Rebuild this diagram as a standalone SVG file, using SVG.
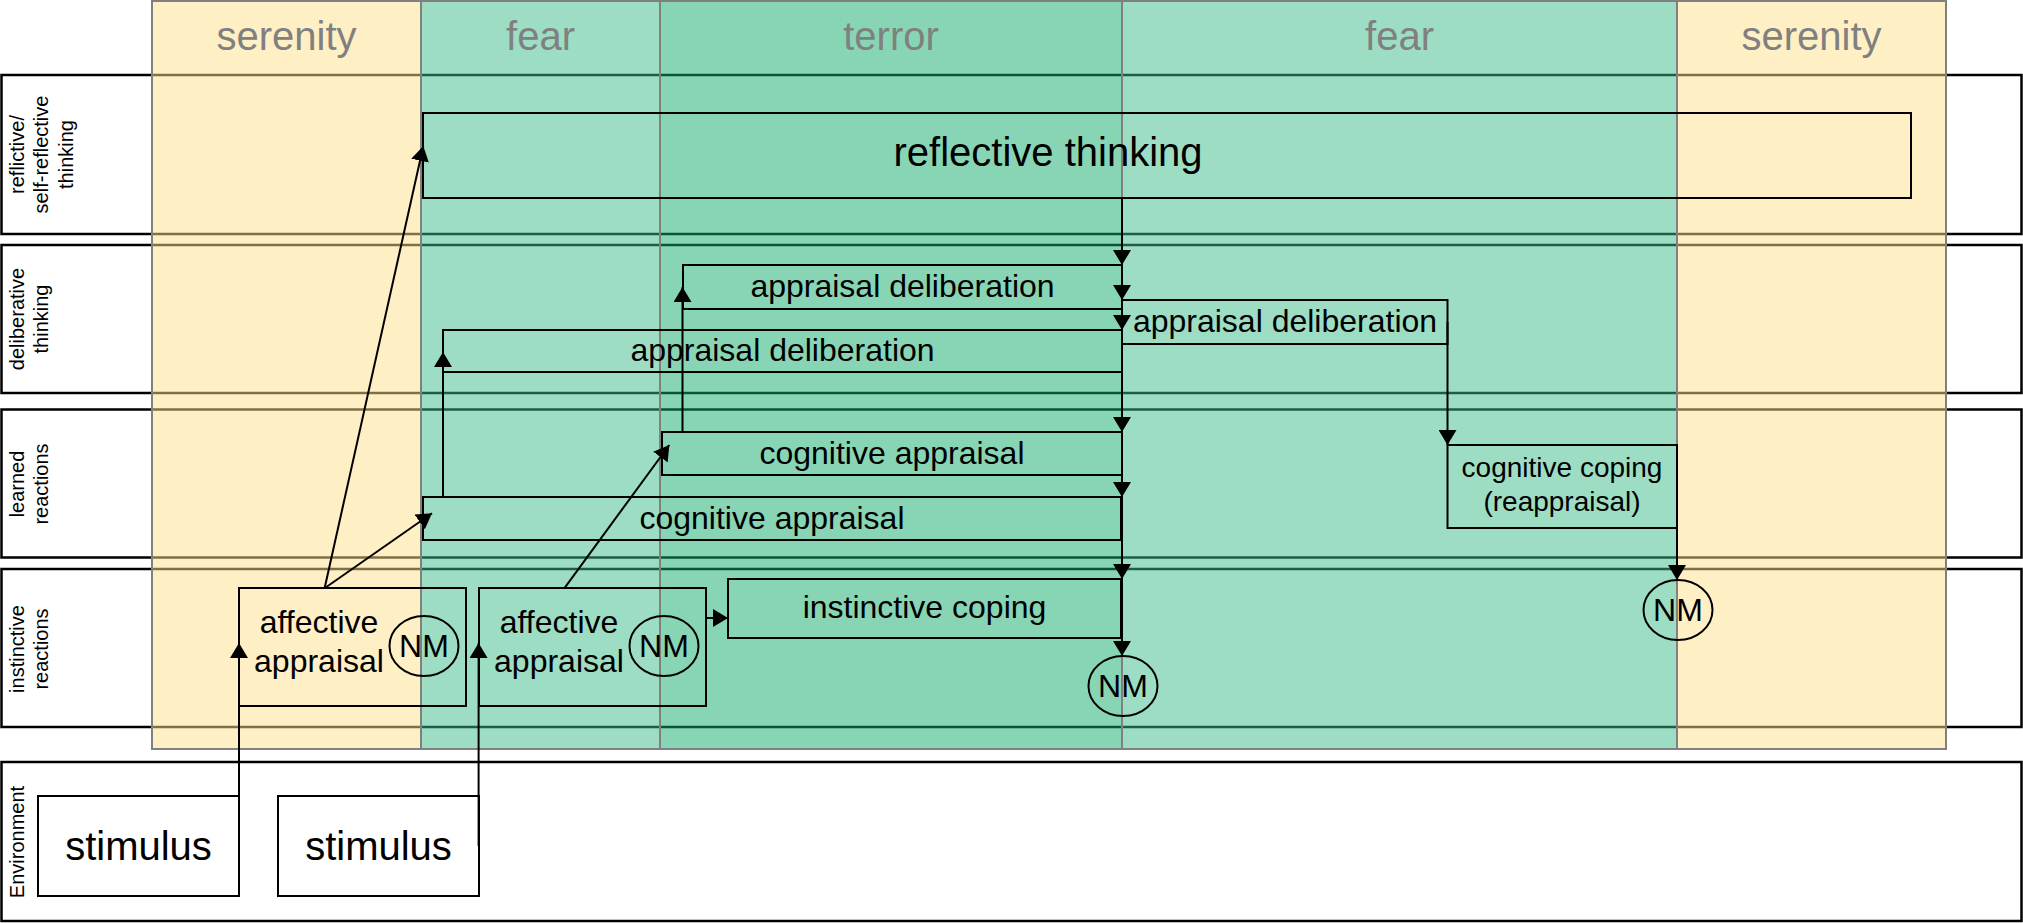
<svg xmlns="http://www.w3.org/2000/svg" width="2023" height="923" viewBox="0 0 2023 923">
<style>
.lane{fill:#fff;stroke:#000;stroke-width:2.5}
.lbl{font-family:"Liberation Sans",Arial,sans-serif;font-size:20px;fill:#000;text-anchor:middle}
.band{stroke:#808080;stroke-width:2;fill-opacity:0.5}
.hdr{font-family:"Liberation Sans",Arial,sans-serif;font-size:40px;fill:#808080;text-anchor:middle}
.box{fill:none;stroke:#000;stroke-width:2}
.t{font-family:"Liberation Sans",Arial,sans-serif;font-size:32px;fill:#000;text-anchor:middle}
.big{font-size:40px}
.sm{font-size:28px}
.con{fill:none;stroke:#000;stroke-width:2;marker-end:url(#arr)}
</style>
<defs>
<marker id="arr" markerUnits="userSpaceOnUse" markerWidth="15" markerHeight="18" refX="15" refY="9" orient="auto">
<path d="M0,0 L15,9 L0,18 Z" fill="#000"/>
</marker>
</defs>
<rect width="2023" height="923" fill="#fff"/>
<g id="lanes">
<g id="lane-reflective">
<rect class="lane" x="1.5" y="75" width="2020" height="159"/>
<text class="lbl" transform="translate(0,154.5) rotate(-90)"><tspan x="0" y="23.5">reflictive/</tspan><tspan x="0" y="48">self-reflective</tspan><tspan x="0" y="72.5">thinking</tspan></text>
</g>
<g id="lane-deliberative">
<rect class="lane" x="1.5" y="245" width="2020" height="148"/>
<text class="lbl" transform="translate(0,319) rotate(-90)"><tspan x="0" y="23.5">deliberative</tspan><tspan x="0" y="48">thinking</tspan></text>
</g>
<g id="lane-learned">
<rect class="lane" x="1.5" y="409.5" width="2020" height="148"/>
<text class="lbl" transform="translate(0,484) rotate(-90)"><tspan x="0" y="23.5">learned</tspan><tspan x="0" y="48">reactions</tspan></text>
</g>
<g id="lane-instinctive">
<rect class="lane" x="1.5" y="569" width="2020" height="158"/>
<text class="lbl" transform="translate(0,649) rotate(-90)"><tspan x="0" y="23.5">instinctive</tspan><tspan x="0" y="48">reactions</tspan></text>
</g>
<g id="lane-environment">
<rect class="lane" x="1.5" y="762" width="2020" height="159"/>
<text class="lbl" transform="translate(0,842) rotate(-90)"><tspan x="0" y="23.5">Environment</tspan></text>
</g>
</g>
<g id="bands">
<g id="band-serenity-1"><rect class="band" x="152" y="1" width="269" height="748" fill="#FFDF8B"/><text class="hdr" x="286.5" y="50">serenity</text></g>
<g id="band-fear-1"><rect class="band" x="421" y="1" width="239" height="748" fill="#3BBB87"/><text class="hdr" x="540.5" y="50">fear</text></g>
<g id="band-terror"><rect class="band" x="660" y="1" width="462" height="748" fill="#11AB6B"/><text class="hdr" x="891" y="50">terror</text></g>
<g id="band-fear-2"><rect class="band" x="1122" y="1" width="555" height="748" fill="#3BBB87"/><text class="hdr" x="1399.5" y="50">fear</text></g>
<g id="band-serenity-2"><rect class="band" x="1677" y="1" width="269" height="748" fill="#FFDF8B"/><text class="hdr" x="1811.5" y="50">serenity</text></g>
</g>
<g id="n-reflective"><rect class="box" x="423" y="113" width="1488" height="85"/><text class="t big" x="1048" y="166">reflective thinking</text></g>
<g id="n-delib-1"><rect class="box" x="683" y="265" width="439" height="44"/><text class="t" x="902.5" y="297">appraisal deliberation</text></g>
<g id="n-delib-2"><rect class="box" x="443" y="330" width="679" height="42"/><text class="t" x="782.5" y="361">appraisal deliberation</text></g>
<g id="n-delib-3"><rect class="box" x="1122" y="300" width="325.5" height="44"/><text class="t" x="1285" y="332">appraisal deliberation</text></g>
<g id="n-cog-1"><rect class="box" x="662" y="432" width="460" height="43"/><text class="t" x="892" y="464">cognitive appraisal</text></g>
<g id="n-cog-2"><rect class="box" x="423" y="497" width="698" height="43"/><text class="t" x="772" y="529">cognitive appraisal</text></g>
<g id="n-inst-coping"><rect class="box" x="728" y="579" width="393" height="59"/><text class="t" x="924.5" y="618">instinctive coping</text></g>
<g id="n-aff-1"><rect class="box" x="239" y="588" width="227" height="118"/><text class="t" x="319" y="633">affective</text><text class="t" x="319" y="672">appraisal</text></g>
<g id="n-nm-1"><ellipse class="box" cx="424" cy="646" rx="34.5" ry="30"/><text class="t" x="424" y="657">NM</text></g>
<g id="n-aff-2"><rect class="box" x="479" y="588" width="227" height="118"/><text class="t" x="559" y="633">affective</text><text class="t" x="559" y="672">appraisal</text></g>
<g id="n-nm-2"><ellipse class="box" cx="664" cy="646" rx="34.5" ry="30"/><text class="t" x="664" y="657">NM</text></g>
<g id="n-nm-3"><ellipse class="box" cx="1123" cy="686" rx="34.5" ry="30"/><text class="t" x="1123" y="697">NM</text></g>
<g id="n-cog-coping"><rect class="box" x="1447.5" y="445" width="229.5" height="83"/><text class="t sm" x="1562" y="477">cognitive coping</text><text class="t sm" x="1562" y="511">(reappraisal)</text></g>
<g id="n-nm-4"><ellipse class="box" cx="1678" cy="610" rx="34.5" ry="30"/><text class="t" x="1678" y="621">NM</text></g>
<g id="n-stim-1"><rect class="box" x="38" y="796" width="201" height="100"/><text class="t big" x="138.5" y="860">stimulus</text></g>
<g id="n-stim-2"><rect class="box" x="278" y="796" width="201" height="100"/><text class="t big" x="378.5" y="860">stimulus</text></g>
<g id="connectors">
<path class="con" d="M239 846 V643"/>
<path class="con" d="M478.6 846 V643"/>
<path class="con" d="M324.6 588.3 L423.3 146"/>
<path class="con" d="M324.6 588.3 L432 513.3"/>
<path class="con" d="M564.3 588.3 L669.3 445"/>
<path class="con" d="M706 618 H728"/>
<path class="con" d="M1122 198 V265"/>
<path class="con" d="M1122 265 V300"/>
<path class="con" d="M1122 300 V330"/>
<path class="con" d="M1122 330 V432"/>
<path class="con" d="M1122 432 V497"/>
<path class="con" d="M1122 497 V579"/>
<path class="con" d="M1122 579 V656"/>
<path class="con" d="M443 497 V352"/>
<path class="con" d="M682.5 432 V287"/>
<path class="con" d="M1447.5 322 V445"/>
<path class="con" d="M1677 486 V580"/>
</g>
</svg>
